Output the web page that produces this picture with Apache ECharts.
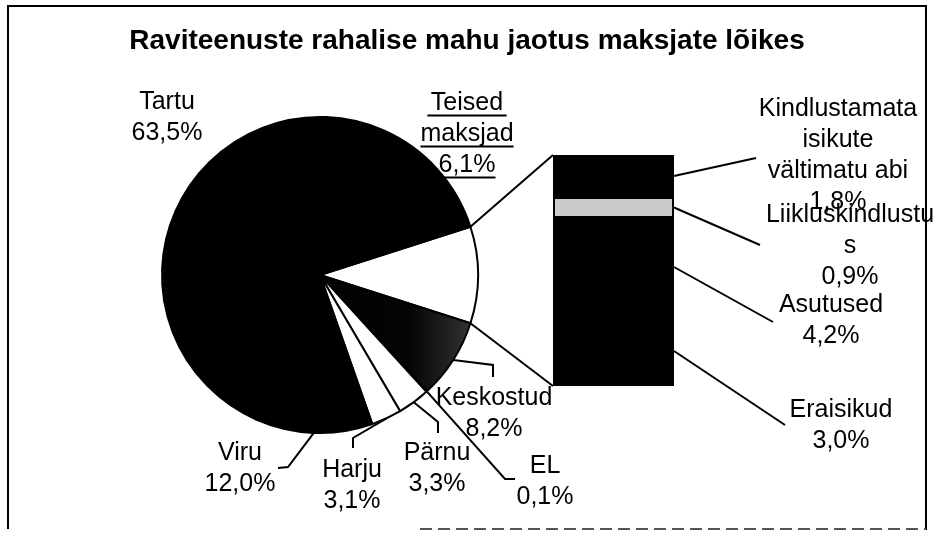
<!DOCTYPE html>
<html>
<head>
<meta charset="utf-8">
<script src="https://cdn.jsdelivr.net/npm/echarts@6/dist/echarts.min.js"></script>
<style>
html, body { margin: 0; padding: 0; background: #fff; }
#chart { width: 934px; height: 533px; }
</style>
</head>
<body>
<div id="chart"></div>
<script>
// pie slices, clockwise starting with the "other payers" slice that is split into the bar
const pieNames = ['Teised\nmaksjad', 'Keskostud', 'EL', 'Pärnu', 'Harju', 'Viru', 'Tartu'];
const pieValues = [6.1, 8.2, 0.1, 3.3, 3.1, 12.0, 63.5];   // printed shares

// the bar that breaks down "Teised maksjad", top to bottom
const barNames = ['Kindlustamata\nisikute\nvältimatu abi', 'Liikluskindlustu\ns', 'Asutused', 'Eraisikud'];
const barValues = [1.8, 0.9, 4.2, 3.0];

const FONT = '"Liberation Sans", Arial, sans-serif';
const LABEL_FONT = '25px ' + FONT;
const pieColors = ['#fff', 'keskostud', '#000', '#fff', '#fff', '#000', '#000'];
const barColors = ['#000', '#cbcbcb', '#000', '#000'];

const C = [320, 275], R = 158;
const BAR = {left: 553, top: 155, width: 121, height: 231};

// label blocks (centre) and leader elbows
const pieLabelPos = [
    {x: 467, y: 134, pts: []},
    {x: 494, y: 414, pts: [[493, 365], [493, 377]]},
    {x: 545, y: 482, pts: [[505, 479], [515, 479]]},
    {x: 437, y: 469, pts: [[438, 422], [438, 433]]},
    {x: 352, y: 486, pts: [[353, 438], [353, 448]]},
    {x: 240, y: 469, pts: [[288, 467], [278, 468]]},
    {x: 167, y: 118, pts: []}
];
const barLabelPos = [
    {x: 838, y: 156, end: [756, 158]},
    {x: 850, y: 246, end: [760, 245]},
    {x: 831, y: 321, end: [773, 322]},
    {x: 841, y: 426, end: [785, 425]}
];

const pct = v => v.toFixed(1).replace('.', ',') + '%';

const otherShare = barValues.reduce((a, b) => a + b, 0);
const sliceValues = pieValues.map((v, i) => i === 0 ? otherShare : v);
const total = sliceValues.reduce((a, b) => a + b, 0);
const startAngle = otherShare / total * 180;

// screen point on the pie rim at cumulative share s
function rim(s) {
    const th = (-startAngle + s / total * 360) * Math.PI / 180;
    return [C[0] + R * Math.cos(th), C[1] + R * Math.sin(th)];
}

const keskFill = {
    type: 'linear', x: 0, y: 0, x2: 1, y2: 0,
    colorStops: [{offset: 0, color: '#000'}, {offset: 0.6, color: '#050505'}, {offset: 1, color: '#333'}]
};

const measure = document.createElement('canvas').getContext('2d');
measure.font = LABEL_FONT;

const graphics = [];
// frame
graphics.push({type: 'polyline', shape: {points: [[8, 529], [8, 6], [926, 6], [926, 530]]},
    style: {stroke: '#000', lineWidth: 2, fill: null}, silent: true});
graphics.push({type: 'line', shape: {x1: 420, y1: 529, x2: 926, y2: 529},
    style: {stroke: '#555', lineWidth: 2, lineDash: [12, 6]}, silent: true});

// pie labels and leaders
let cum = 0;
sliceValues.forEach((v, i) => {
    const mid = rim(cum + v / 2);
    cum += v;
    const p = pieLabelPos[i];
    if (p.pts.length) {
        graphics.push({type: 'polyline', shape: {points: [mid].concat(p.pts)},
            style: {stroke: '#000', lineWidth: 2, fill: null}, silent: true});
    }
    const lines = (pieNames[i] + '\n' + pct(pieValues[i])).split('\n');
    graphics.push({type: 'text', x: p.x, y: p.y, silent: true,
        style: {text: lines.join('\n'), fill: '#000', font: LABEL_FONT,
            align: 'center', verticalAlign: 'middle', lineHeight: 31}});
    if (i === 0) {
        // the "other" label is underlined
        lines.forEach((ln, k) => {
            const w = measure.measureText(ln === 'Teised' ? ln + ' ' : ln).width;
            const y = p.y - lines.length * 15.5 + k * 31 + 28;
            graphics.push({type: 'line', shape: {x1: p.x - w / 2, y1: y, x2: p.x + w / 2, y2: y},
                style: {stroke: '#000', lineWidth: 2}, silent: true});
        });
    }
});

// connectors from the "other" slice to the bar
const topEdge = rim(0), botEdge = rim(otherShare);
graphics.push({type: 'line', shape: {x1: topEdge[0], y1: topEdge[1], x2: BAR.left, y2: BAR.top},
    style: {stroke: '#000', lineWidth: 2}, silent: true});
graphics.push({type: 'line', shape: {x1: botEdge[0], y1: botEdge[1], x2: BAR.left, y2: BAR.top + BAR.height},
    style: {stroke: '#000', lineWidth: 2}, silent: true});

// bar labels and leaders
let bcum = 0;
barValues.forEach((v, i) => {
    const y0 = BAR.top + (bcum + v / 2) / otherShare * BAR.height;
    bcum += v;
    const p = barLabelPos[i];
    graphics.push({type: 'line', shape: {x1: BAR.left + BAR.width, y1: y0, x2: p.end[0], y2: p.end[1]},
        style: {stroke: '#000', lineWidth: 2}, silent: true});
    graphics.push({type: 'text', x: p.x, y: p.y, silent: true,
        style: {text: barNames[i] + '\n' + pct(v), fill: '#000', font: LABEL_FONT,
            align: 'center', verticalAlign: 'middle', lineHeight: 31}});
});

const chart = echarts.init(document.getElementById('chart'));
chart.setOption({
    animation: false,
    backgroundColor: '#fff',
    title: {
        text: 'Raviteenuste rahalise mahu jaotus maksjate lõikes',
        left: 'center', top: 27, padding: 0,
        textStyle: {fontSize: 28, fontWeight: 'bold', color: '#000', fontFamily: FONT}
    },
    grid: {left: BAR.left, top: BAR.top, width: BAR.width, height: BAR.height},
    xAxis: {type: 'category', data: ['Teised maksjad'], show: false},
    yAxis: {type: 'value', min: 0, max: otherShare, inverse: true, show: false},
    series: [{
        type: 'pie',
        center: C,
        radius: R,
        startAngle: startAngle,
        clockwise: true,
        silent: true,
        label: {show: false},
        labelLine: {show: false},
        itemStyle: {borderColor: '#000', borderWidth: 2},
        data: pieNames.map((n, i) => ({
            name: n,
            value: sliceValues[i],
            itemStyle: {color: pieColors[i] === 'keskostud' ? keskFill : pieColors[i]}
        }))
    }].concat(barValues.map((v, i) => ({
        type: 'bar',
        name: barNames[i],
        stack: 'other',
        barWidth: '100%',
        silent: true,
        itemStyle: {color: barColors[i], borderColor: '#000', borderWidth: 2},
        data: [v]
    }))),
    graphic: graphics
});
</script>
</body>
</html>
